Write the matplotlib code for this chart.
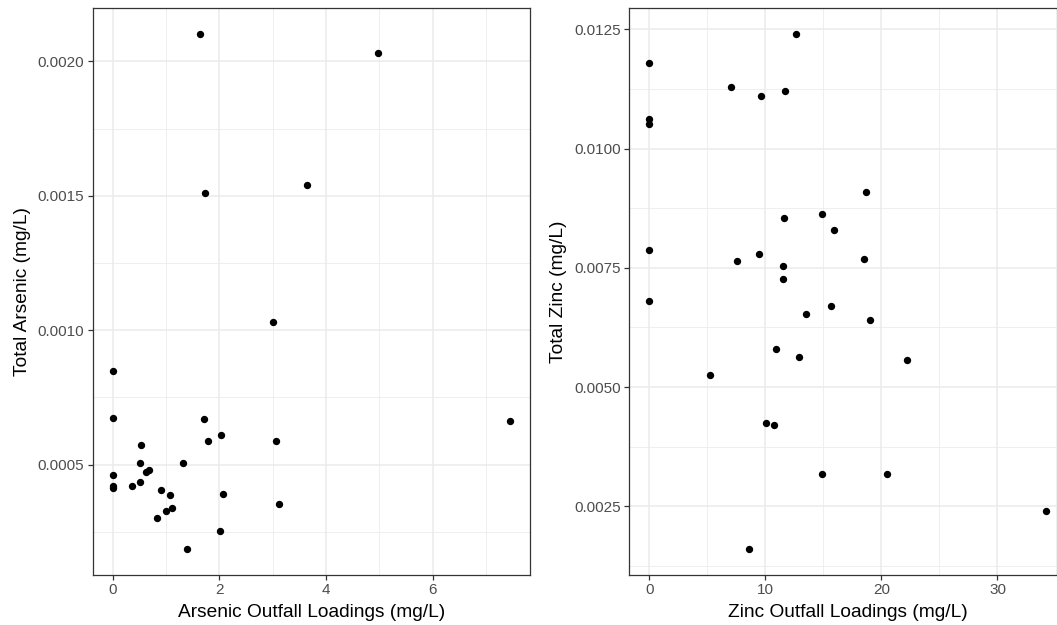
import numpy as np
import matplotlib
matplotlib.use("Agg")
import matplotlib.pyplot as plt
from matplotlib.ticker import MultipleLocator, FormatStrFormatter

plt.rcParams["font.family"] = ["Liberation Sans", "DejaVu Sans"]

# Arsenic: outfall loadings vs. total arsenic (mg/L)
arsenic_outfall = [1.64, 4.98, 1.74, 3.64, 3.00, 0.0, 0.0, 1.72, 7.45, 2.03,
                   1.79, 3.06, 0.54, 0.51, 1.32, 0.0, 0.63, 0.69, 0.0, 0.0,
                   0.36, 0.52, 0.90, 1.07, 2.07, 3.12, 1.11, 1.00, 0.84, 2.01,
                   1.40]
arsenic_total = [0.002102, 0.002031, 0.001510, 0.001540, 0.001030, 0.000849,
                 0.000675, 0.000669, 0.000663, 0.000609, 0.000588, 0.000588,
                 0.000572, 0.000505, 0.000505, 0.000460, 0.000471, 0.000480,
                 0.000420, 0.000414, 0.000419, 0.000435, 0.000404, 0.000385,
                 0.000392, 0.000355, 0.000337, 0.000326, 0.000303, 0.000253,
                 0.000185]

# Zinc: outfall loadings vs. total zinc (mg/L)
zinc_outfall = [12.61, 0.0, 7.08, 11.70, 9.66, 0.0, 0.0, 18.69, 14.90, 11.61,
                15.91, 0.0, 9.43, 7.57, 18.52, 11.56, 11.56, 0.0, 15.62, 13.53,
                18.98, 10.92, 12.93, 22.22, 5.25, 10.09, 10.78, 14.88, 20.52,
                34.19, 8.60]
zinc_total = [0.01240, 0.01180, 0.01130, 0.01120, 0.01110, 0.01061, 0.01051,
              0.00908, 0.00862, 0.00855, 0.00830, 0.00787, 0.00779, 0.00765,
              0.00769, 0.00754, 0.00726, 0.00680, 0.00670, 0.00654, 0.00640,
              0.00580, 0.00563, 0.00557, 0.00526, 0.00425, 0.00421, 0.00318,
              0.00318, 0.00240, 0.00160]

GRID = "#EBEBEB"
FRAME = "#333333"


def expanded(values, frac=0.05):
    lo, hi = min(values), max(values)
    pad = (hi - lo) * frac
    return lo - pad, hi + pad


def scatter_panel(ax, x, y, xlabel, ylabel, xstep, ystep):
    ax.scatter(x, y, s=28, color="black", linewidths=0, zorder=3)
    ax.set_xlim(*expanded(x))
    ax.set_ylim(*expanded(y))

    ax.xaxis.set_major_locator(MultipleLocator(xstep))
    ax.xaxis.set_minor_locator(MultipleLocator(xstep / 2))
    ax.yaxis.set_major_locator(MultipleLocator(ystep))
    ax.yaxis.set_minor_locator(MultipleLocator(ystep / 2))
    ax.xaxis.set_major_formatter(FormatStrFormatter("%d"))
    ax.yaxis.set_major_formatter(FormatStrFormatter("%.4f"))

    ax.grid(which="major", color=GRID, linewidth=1.1, zorder=0)
    ax.grid(which="minor", color=GRID, linewidth=0.55, zorder=0)
    ax.set_axisbelow(True)

    for spine in ax.spines.values():
        spine.set_color(FRAME)
        spine.set_linewidth(0.9)

    ax.tick_params(which="major", length=3.5, width=0.9, color=FRAME,
                   labelcolor="#4D4D4D", labelsize=11, pad=2.5)
    ax.tick_params(which="minor", length=0)
    ax.set_xlabel(xlabel, fontsize=13.8, color="black", labelpad=5)
    ax.set_ylabel(ylabel, fontsize=13.8, color="black", labelpad=5)


fig = plt.figure(figsize=(10.57, 6.25), dpi=100)
ax1 = fig.add_axes([0.0877, 0.080, 0.4137, 0.9067])
ax2 = fig.add_axes([0.5954, 0.080, 0.4131, 0.9067])

scatter_panel(ax1, arsenic_outfall, arsenic_total,
              "Arsenic Outfall Loadings (mg/L)", "Total Arsenic (mg/L)",
              2, 0.0005)
scatter_panel(ax2, zinc_outfall, zinc_total,
              "Zinc Outfall Loadings (mg/L)", "Total Zinc (mg/L)",
              10, 0.0025)

fig.savefig("out.png", dpi=100, facecolor="white")
